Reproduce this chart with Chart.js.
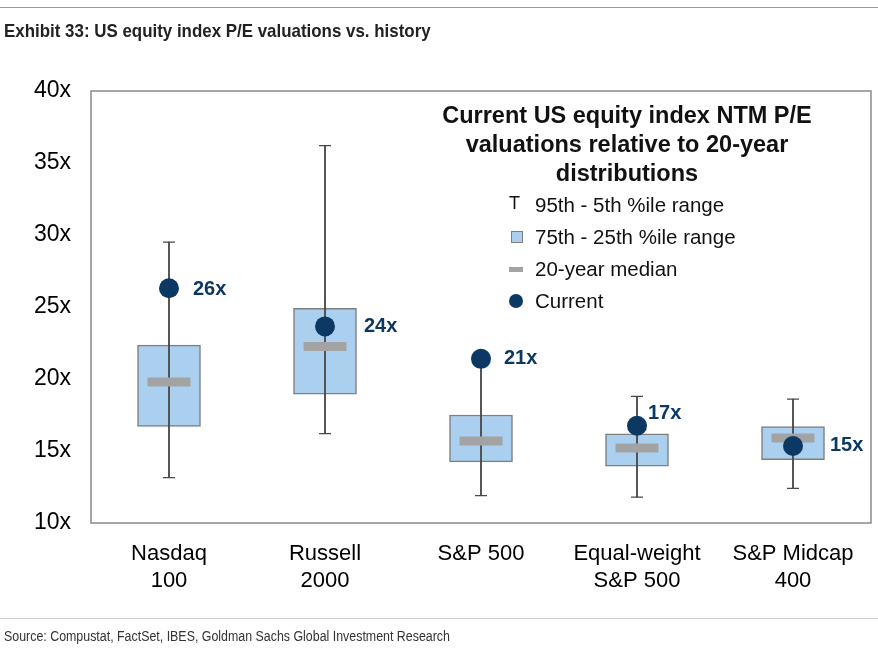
<!DOCTYPE html>
<html>
<head>
<meta charset="utf-8">
<script src="https://cdn.jsdelivr.net/npm/chart.js@4.4.1/dist/chart.umd.min.js"></script>
<style>
  html, body { margin: 0; padding: 0; background: #fff; }
  #wrap { position: relative; width: 878px; height: 648px; overflow: hidden; font-family: "Liberation Sans", Arial, sans-serif; }
  #c { position: absolute; left: 0; top: 0; }
  .abs { position: absolute; white-space: nowrap; }
  #topline { left: 0; top: 7px; width: 878px; height: 0; border-top: 1.5px solid #9a9a9a; }
  #title { left: 4px; top: 19px; height: 24px; line-height: 24px; font-weight: bold; font-size: 19px; color: #222; transform: scaleX(0.89); transform-origin: 0 50%; }
  #botline { left: 0; top: 618px; width: 878px; height: 0; border-top: 1px solid #d0d0d0; }
  #source { left: 4px; top: 627px; height: 18px; line-height: 18px; font-size: 15.5px; color: #333; transform: scaleX(0.80); transform-origin: 0 50%; }
  #inner { left: 427px; top: 101px; width: 400px; text-align: center; font-weight: bold; font-size: 23.5px; line-height: 29px; color: #111; }
  .leg { left: 535px; height: 32px; line-height: 32px; font-size: 20.5px; color: #111; }
  .sym { position: absolute; }
</style>
</head>
<body>
<div id="wrap">
  <canvas id="c" width="878" height="648"></canvas>
  <div id="topline" class="abs"></div>
  <div id="title" class="abs">Exhibit 33: US equity index P/E valuations vs. history</div>
  <div id="inner" class="abs">Current US equity index NTM P/E<br>valuations relative to 20-year<br>distributions</div>
  <div id="legend"></div>
  <div id="botline" class="abs"></div>
  <div id="source" class="abs">Source: Compustat, FactSet, IBES, Goldman Sachs Global Investment Research</div>
</div>
<script>
// ---- data ----
const categories = [["Nasdaq", "100"], ["Russell", "2000"], ["S&P 500"], ["Equal-weight", "S&P 500"], ["S&P Midcap", "400"]];
const p5      = [13.15, 16.2, 11.9, 11.8, 12.4];
const p25     = [16.7, 18.95, 14.25, 13.95, 14.4];
const median  = [19.8, 22.25, 15.7, 15.2, 15.9];
const p75     = [22.35, 24.9, 17.5, 16.2, 16.7];
const p95     = [29.5, 36.2, 21.3, 18.8, 18.6];
const current = [26.3, 23.65, 21.4, 16.75, 15.35];
const currentLabels = ["26x", "24x", "21x", "17x", "15x"];
const yTicks = [10, 15, 20, 25, 30, 35, 40];
const legendItems = ["95th - 5th %ile range", "75th - 25th %ile range", "20-year median", "Current"];

// ---- colours ----
const NAVY = "#0c3864";
const BOXFILL = "#abd0ef";
const BOXLINE = "#7f7f7f";
const WHISK = "#4a4a4a";
const MED = "#a3a3a3";

// ---- HTML legend ----
(function () {
  const lg = document.getElementById("legend");
  const rows = [205, 237, 269, 301];
  legendItems.forEach((t, i) => {
    const d = document.createElement("div");
    d.className = "abs leg";
    d.style.top = (rows[i] - 16) + "px";
    d.textContent = t;
    lg.appendChild(d);
    const s = document.createElement("div");
    s.className = "abs sym";
    if (i === 0) {
      s.textContent = "T";
      s.style.cssText += "left:509px;top:" + (rows[i] - 14) + "px;font-size:18px;line-height:24px;color:#111;";
    } else if (i === 1) {
      s.style.cssText += "left:511px;top:" + (rows[i] - 6) + "px;width:10px;height:10px;background:" + BOXFILL + ";border:1px solid " + BOXLINE + ";";
    } else if (i === 2) {
      s.style.cssText += "left:509px;top:" + (rows[i] - 2.5) + "px;width:14px;height:5px;background:" + MED + ";";
    } else {
      s.style.cssText += "left:509px;top:" + (rows[i] - 7) + "px;width:14px;height:14px;border-radius:50%;background:" + NAVY + ";";
    }
    lg.appendChild(s);
  });
})();

// ---- plugins ----
const framePlugin = {
  id: "frame",
  afterDraw(chart) {
    const { ctx, chartArea: a } = chart;
    ctx.save();
    ctx.strokeStyle = "#8a8a8a";
    ctx.lineWidth = 1.5;
    ctx.strokeRect(a.left, a.top, a.right - a.left, a.bottom - a.top);
    ctx.restore();
  }
};

const labelOffsets = [[24, 1], [39, 0], [23, 0], [11, -12], [37, 0]];
const dotLabelPlugin = {
  id: "dotLabels",
  afterDatasetsDraw(chart) {
    const idx = chart.data.datasets.findIndex(d => d.id === "current");
    const meta = chart.getDatasetMeta(idx);
    const ctx = chart.ctx;
    ctx.save();
    ctx.font = "bold 20px 'Liberation Sans', Arial, sans-serif";
    ctx.fillStyle = NAVY;
    ctx.textAlign = "left";
    ctx.textBaseline = "middle";
    meta.data.forEach((pt, i) => {
      const o = labelOffsets[i];
      ctx.fillText(currentLabels[i], pt.x + o[0], pt.y + o[1]);
    });
    ctx.restore();
  }
};

const ctx = document.getElementById("c").getContext("2d");
new Chart(ctx, {
  type: "bar",
  data: {
    labels: categories,
    datasets: [
      {
        id: "current", type: "line", label: "Current", data: current, order: 1,
        showLine: false, pointRadius: 10, pointHoverRadius: 10,
        pointBackgroundColor: NAVY, pointBorderColor: NAVY, pointBorderWidth: 0
      },
      {
        id: "capTop", type: "line", label: "95th", data: p95, order: 2,
        showLine: false, pointStyle: "line", pointRadius: 6, pointHoverRadius: 6,
        pointBorderColor: WHISK, pointBorderWidth: 1.2
      },
      {
        id: "capBot", type: "line", label: "5th", data: p5, order: 2,
        showLine: false, pointStyle: "line", pointRadius: 6, pointHoverRadius: 6,
        pointBorderColor: WHISK, pointBorderWidth: 1.2
      },
      {
        id: "median", type: "line", label: "20-year median", data: median, order: 3,
        showLine: false, pointStyle: "line", pointRadius: 21.5, pointHoverRadius: 21.5,
        pointBorderColor: MED, pointBorderWidth: 9
      },
      {
        id: "whisker", label: "95th - 5th %ile range", order: 4,
        data: p5.map((v, i) => [v, p95[i]]),
        backgroundColor: WHISK, borderWidth: 0, barThickness: 1.2, grouped: false
      },
      {
        id: "box", label: "75th - 25th %ile range", order: 5,
        data: p25.map((v, i) => [v, p75[i]]),
        backgroundColor: BOXFILL, borderColor: BOXLINE, borderWidth: 1.5,
        borderSkipped: false, barThickness: 63, grouped: false
      }
    ]
  },
  options: {
    responsive: false,
    animation: false,
    devicePixelRatio: 1,
    layout: { autoPadding: false, padding: { left: 0, right: 7, top: 91, bottom: 45 } },
    plugins: { legend: { display: false }, tooltip: { enabled: false }, title: { display: false } },
    scales: {
      x: {
        offset: true,
        grid: { display: false },
        border: { display: false },
        ticks: {
          color: "#000", maxRotation: 0, minRotation: 0, autoSkip: false, padding: 9,
          font: { family: "'Liberation Sans', Arial, sans-serif", size: 22, lineHeight: 1.23 }
        },
        afterFit(s) { s.height = 80; s.paddingLeft = 0; s.paddingRight = 0; }
      },
      y: {
        min: 10, max: 40,
        grid: { display: false, drawTicks: false },
        border: { display: false },
        afterBuildTicks(s) { s.ticks = yTicks.map(v => ({ value: v })); },
        ticks: {
          color: "#000", padding: 20,
          font: { family: "'Liberation Sans', Arial, sans-serif", size: 23 },
          callback: v => v + "x"
        },
        afterFit(s) { s.width = 91; s.paddingTop = 0; s.paddingBottom = 0; }
      }
    }
  },
  plugins: [framePlugin, dotLabelPlugin]
});
</script>
</body>
</html>
